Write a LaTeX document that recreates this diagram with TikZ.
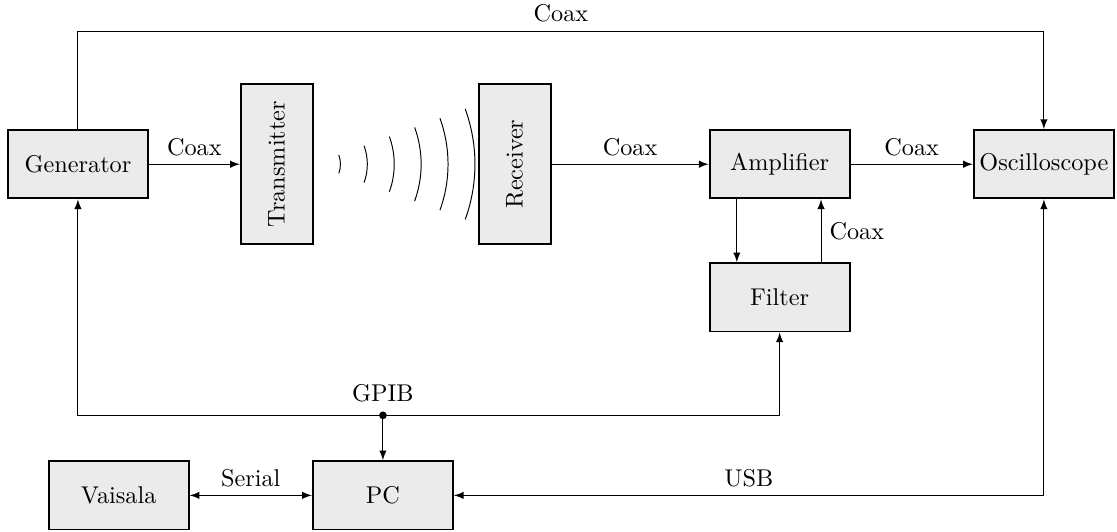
\documentclass[tikz,border=0pt]{standalone}
\usetikzlibrary{arrows}
\definecolor{boxgray}{gray}{0.92}
\tikzset{
    block/.style={draw, thick, fill=boxgray, minimum width=2.03cm, minimum height=0.99cm, inner sep=2pt},
    vblock/.style={draw, thick, fill=boxgray, minimum width=1.04cm, minimum height=2.32cm, inner sep=2pt}
}
\begin{document}
\begin{tikzpicture}[>=latex]
    \useasboundingbox (0,0) rectangle (16.19,7.70);

    % Blocks
    \node[block] (gen) at (1.13,5.32) {Generator};
    \node[vblock] (tx) at (4.01,5.32) {\rotatebox{90}{Transmitter}};
    \node[vblock] (rx) at (7.46,5.32) {\rotatebox{90}{Receiver}};
    \node[block] (amp) at (11.30,5.32) {Amplifier};
    \node[block] (osc) at (15.13,5.32) {Oscilloscope};
    \node[block] (filter) at (11.30,3.39) {Filter};
    \node[block] (vai) at (1.72,0.52) {Vaisala};
    \node[block] (pc) at (5.55,0.52) {PC};

    \coordinate (top) at (8.13,7.25);
    \coordinate (bus) at (5.55,1.68);

    % Waves
    \foreach \r in {0.39,0.78,1.17,1.56,1.95,2.34}
        \draw ([shift={(-20:\r)}]tx.east) arc (-20:20:\r);

    % Lines
    \draw[->] (gen) |- (top) node[above] {Coax} -| (osc);   % generator to scope
    \draw[->] (gen) -- node[above] {Coax} (tx);
    \draw[->] (rx) -- node[above] {Coax} (amp);
    \draw[->] (amp) -- node[above] {Coax} (osc);
    \draw[->] ([xshift=-0.62cm]amp.south) -- ([xshift=-0.62cm]amp.south |- filter.north);
    \draw[->] ([xshift=0.6cm]filter.north) -- node[right] {Coax} ([xshift=0.6cm]filter.north |- amp.south);
    \draw[<->] (gen) |- (bus) -| (filter);   % GPIB
    \draw[->] (bus) -- (pc);
    \fill (bus) circle (1.6pt) node[above=2pt] {GPIB};
    \draw[<->] (vai) -- node[above] {Serial} (pc);
    \draw[<->] (osc) |- node[above, pos=0.75] {USB} (pc);

\end{tikzpicture}
\end{document}
